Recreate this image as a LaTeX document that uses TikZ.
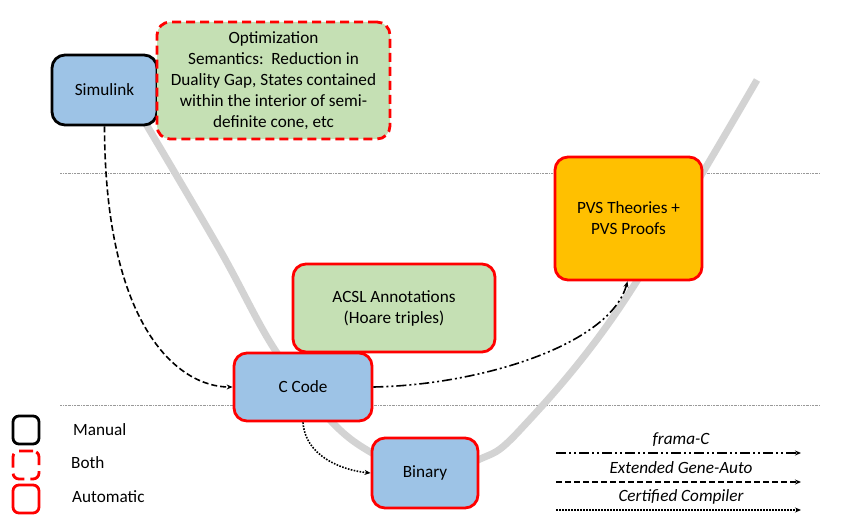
\documentclass[tikz,border=0pt]{standalone}
\usepackage{fontspec}
\setmainfont{Carlito}
\usetikzlibrary{arrows.meta}
\definecolor{boxblue}{HTML}{9DC3E6}
\definecolor{boxgreen}{HTML}{C5E0B4}
\definecolor{boxorange}{HTML}{FFC000}
\definecolor{vgray}{HTML}{D3D3D3}
\definecolor{autored}{HTML}{FF0000}
\tikzset{
  txt/.style={font=\fontsize{17.2}{21}\selectfont},
  blk/.style={rounded corners=13pt, line width=2.8pt, align=center, inner sep=0pt, txt},
  manual/.style={blk, draw=black},
  auto/.style={blk, draw=autored},
  both/.style={blk, draw=autored, dash pattern=on 9pt off 5pt},
  sep/.style={draw=gray!80, line width=0.6pt, dash pattern=on 2pt off 1pt on 0.5pt off 1pt},
  conn/.style={line width=1.6pt, -{Stealth[length=6pt,width=5pt]}},
  fc/.style={conn, dash pattern=on 10pt off 3pt on 2pt off 3pt on 2pt off 3pt},
  ga/.style={conn, dash pattern=on 6pt off 3pt},
  cc/.style={conn, dash pattern=on 1.6pt off 1.4pt},
  lbl/.style={txt, inner sep=0pt},
  ilbl/.style={font=\fontsize{17.2}{21}\selectfont\itshape, inner sep=0pt},
  lgd/.style={rounded corners=6pt, line width=2.8pt, minimum width=26pt, minimum height=28pt, inner sep=0pt}
}
\begin{document}
\begin{tikzpicture}[x=1pt,y=-1pt]
\useasboundingbox (0,0) rectangle (847,519);
% separators
\coordinate (s1a) at (60,173); \coordinate (s1b) at (820,173);
\coordinate (s2a) at (60,405); \coordinate (s2b) at (820,405);
\draw[sep] (s1a) -- (s1b);
\draw[sep] (s2a) -- (s2b);
% V curve
\draw[vgray, line width=7pt, line cap=butt]
  plot[smooth, tension=0.6] coordinates {(146,124) (220,250) (275,350) (330,420) (372,453) (425,476) (478,460) (520,430) (620,307) (757,80)};
% boxes
\node[manual, fill=boxblue, minimum width=105pt, minimum height=70pt] (sim) at (104.5,90) {Simulink};
\node[both, fill=boxgreen, minimum width=233pt, minimum height=117pt] (opt) at (273.5,80.5)
  {Optimization\\Semantics:\ \ Reduction in\\Duality Gap, States contained\\within the interior of semi-\\definite cone, etc};
\node[auto, fill=boxorange, minimum width=147pt, minimum height=123pt] (pvs) at (628.5,218.5) {PVS Theories +\\PVS Proofs};
\node[auto, fill=boxgreen, minimum width=202pt, minimum height=88pt] (acsl) at (394,308) {ACSL Annotations\\(Hoare triples)};
\node[auto, fill=boxblue, minimum width=138pt, minimum height=68pt] (cc) at (303,387) {C Code};
\node[auto, fill=boxblue, minimum width=106pt, minimum height=70pt] (bin) at (425,473) {Binary};
% connectors
\draw[ga] (sim.south) .. controls (105,330) and (180,387) .. (cc.west);
\draw[fc] (cc.east) .. controls (480,385) and (610,345) .. ([xshift=-1pt]pvs.south);
\draw[cc] (cc.south) .. controls (305,455) and (340,470) .. (bin.west);
% legend boxes
\node[lgd, draw=black] (lm) at (26,430) {};
\node[lgd, draw=autored, dash pattern=on 14pt off 6pt] (lb) at (26,465) {};
\node[lgd, draw=autored] (la) at (26,499) {};
\node[lbl, anchor=west] (tm) at (73,430) {Manual};
\node[lbl, anchor=west] (tb) at (71,463) {Both};
\node[lbl, anchor=west] (ta) at (72,497) {Automatic};
% legend lines
\coordinate (f1) at (556,453); \coordinate (f2) at (801,453);
\coordinate (g1) at (556,482); \coordinate (g2) at (801,482);
\coordinate (c1) at (556,510); \coordinate (c2) at (801,510);
\draw[fc] (f1) -- (f2);
\draw[ga] (g1) -- (g2);
\draw[cc] (c1) -- (c2);
\node[ilbl] (tf) at (681,440) {frama-C};
\node[ilbl] (tg) at (681,468) {Extended Gene-Auto};
\node[ilbl] (tc) at (681,497) {Certified Compiler};
\end{tikzpicture}
\end{document}
